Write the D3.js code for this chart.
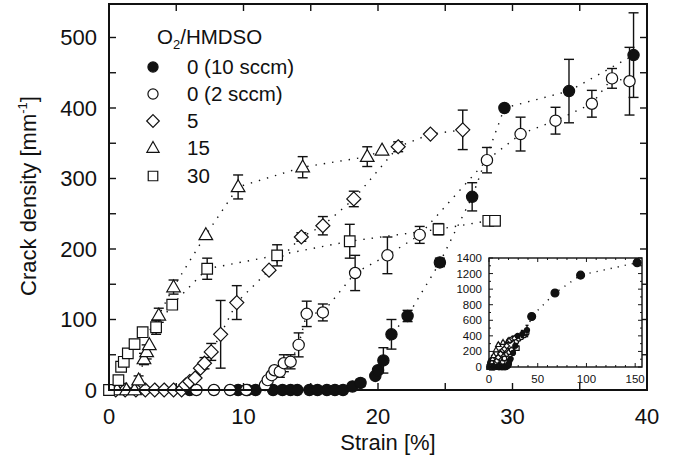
<!DOCTYPE html>
<html>
<head>
<meta charset="utf-8">
<script src="https://cdn.jsdelivr.net/npm/d3@7"></script>
<style>
  body { margin: 0; background: #fff; }
  text { font-family: "Liberation Sans", Arial, sans-serif; fill: #111; }
</style>
</head>
<body>
<svg id="chart" width="676" height="463"></svg>
<script>
// [strain %, crack density mm^-1, error]
const filled10 = [
  [6.0,0,0],[9.6,0,0],[10.3,0,0],[10.9,0,0],[12.2,0,0],[12.9,0,0],[13.5,0,0],[14.0,0,0],
  [14.9,0,0],[15.5,0,0],[16.2,0,0],[16.8,0,0],[17.4,0,0],[18.1,5,0],[18.7,10,5],
  [19.8,20,0],[20.0,28,0],[20.4,42,18],[21.0,79,21],[22.2,105,8],[24.6,181,6],
  [27.0,274,20],[29.4,400,0],[34.2,424,45],[39.0,475,60]
];
const open2 = [
  [6.5,0,0],[7.8,0,0],[9.0,0,0],[10.2,0,0],[11.6,7,0],[11.8,14,0],[12.1,21,0],[12.3,28,0],
  [12.7,26,8],[13.0,38,12],[13.5,40,10],[14.1,64,17],[14.7,108,18],[15.9,110,12],
  [18.3,166,25],[20.7,191,26],[23.1,220,12],[28.1,326,18],[30.6,363,24],[33.2,382,19],
  [35.9,406,19],[37.4,442,14],[38.7,438,48]
];
const ratio5 = [
  [0.5,0,0],[1.2,0,0],[2.0,0,0],[2.7,0,0],[3.4,0,0],[4.1,0,0],[4.8,0,0],[5.4,0,0],
  [5.7,7,0],[6.0,12,0],[6.4,17,0],[6.8,31,0],[7.1,38,8],[7.6,54,12],[8.3,79,48],
  [9.5,124,24],[11.9,170,0],[14.3,217,6],[15.9,233,13],[18.2,271,11],[21.5,345,7],
  [23.9,363,0],[26.3,369,28]
];
const ratio15 = [
  [0.6,0,0],[1.3,0,0],[1.9,0,0],[2.2,14,6],[2.6,44,8],[2.8,54,10],[3.0,64,0],
  [3.7,106,10],[4.8,146,10],[7.2,220,0],[9.6,288,17],[14.4,316,15],[19.2,331,14],[20.3,340,0]
];
const ratio30 = [
  [0,0,0],[0.7,14,0],[0.9,33,0],[1.1,40,0],[1.4,52,0],[1.9,65,0],[2.5,82,0],[3.5,89,10],
  [4.7,121,0],[7.3,172,15],[12.5,191,15],[17.9,211,24],[24.5,228,8],[28.2,240,0],[28.7,240,0]
];
// inset: long-strain points of the 10 sccm film
const insetExtra = [[43.8,649],[67.7,950],[94,1180],[152,1340]];

const legendLabels = ["0 (10 sccm)", "0  (2 sccm)", "5", "15", "30"];
const xTicks = [0, 10, 20, 30, 40];
const yTicks = [0, 100, 200, 300, 400, 500];
const insetXTicks = [0, 50, 100, 150];
const insetYTicks = [0, 200, 400, 600, 800, 1000, 1200, 1400];

const svg = d3.select("#chart");
const x = d3.scaleLinear().domain([0, 40]).range([109, 647]);
const y = d3.scaleLinear().domain([0, 547.5]).range([390, 4]);

// marker shapes
function shape(kind, s) {
  const k = s || 1;
  if (kind === "circle") return d3.symbol(d3.symbolCircle, 100 * k * k)();
  if (kind === "diamond") { const h = 7 * k; return `M0,${-h}L${h},0L0,${h}L${-h},0Z`; }
  if (kind === "triangle") { const a = 6.8 * k; return `M0,${-a * 1.05}L${a},${a * 0.7}L${-a},${a * 0.7}Z`; }
  if (kind === "square") { const a = 5.3 * k; return `M${-a},${-a}H${a}V${a}H${-a}Z`; }
}

const series = [
  { data: filled10, kind: "circle", fill: "#111" },
  { data: open2, kind: "circle", fill: "#fff" },
  { data: ratio5, kind: "diamond", fill: "#fff" },
  { data: ratio15, kind: "triangle", fill: "#fff" },
  { data: ratio30, kind: "square", fill: "#fff" }
];

function drawSeries(g, xs, ys, s, dash, lineW) {
  const line = d3.line().x(d => xs(d[0])).y(d => ys(d[1]));
  g.append("path")
    .datum(s.data)
    .attr("d", line)
    .attr("fill", "none")
    .attr("stroke", "#111")
    .attr("stroke-width", lineW)
    .attr("stroke-dasharray", dash);
}

function drawMarks(g, xs, ys, s, scale, cap) {
  const withErr = s.data.filter(d => d[2] > 0);
  const eb = g.selectAll(null).data(withErr).enter().append("g")
    .attr("stroke", "#111").attr("stroke-width", 1.4);
  eb.append("line")
    .attr("x1", d => xs(d[0])).attr("x2", d => xs(d[0]))
    .attr("y1", d => ys(d[1] - d[2])).attr("y2", d => ys(d[1] + d[2]));
  eb.append("line")
    .attr("x1", d => xs(d[0]) - cap).attr("x2", d => xs(d[0]) + cap)
    .attr("y1", d => ys(d[1] + d[2])).attr("y2", d => ys(d[1] + d[2]));
  eb.append("line")
    .attr("x1", d => xs(d[0]) - cap).attr("x2", d => xs(d[0]) + cap)
    .attr("y1", d => ys(d[1] - d[2])).attr("y2", d => ys(d[1] - d[2]));
  g.selectAll(null).data(s.data).enter().append("path")
    .attr("transform", d => `translate(${xs(d[0])},${ys(d[1])})`)
    .attr("d", shape(s.kind, scale))
    .attr("fill", s.fill)
    .attr("stroke", "#111")
    .attr("stroke-width", 1.2);
}

// main plot
const plot = svg.append("g");
series.forEach(s => drawSeries(plot, x, y, s, "1.4,7", 1.4));
series.forEach(s => drawMarks(plot, x, y, s, 1, 5));

// frame + inward ticks on four sides
function frame(g, xs, ys, xMajor, xMinor, yMajor, yMinor, tl, tm, sw) {
  const [x0, x1] = xs.range(), [y0, y1] = ys.range();
  const t = g.append("g").attr("stroke", "#111").attr("stroke-width", sw * 0.7);
  xMinor.forEach(v => {
    const len = xMajor.includes(v) ? tl : tm;
    t.append("line").attr("x1", xs(v)).attr("x2", xs(v)).attr("y1", y0).attr("y2", y0 - len);
    t.append("line").attr("x1", xs(v)).attr("x2", xs(v)).attr("y1", y1).attr("y2", y1 + len);
  });
  yMinor.forEach(v => {
    const len = yMajor.includes(v) ? tl : tm;
    t.append("line").attr("y1", ys(v)).attr("y2", ys(v)).attr("x1", x0).attr("x2", x0 + len);
    t.append("line").attr("y1", ys(v)).attr("y2", ys(v)).attr("x1", x1).attr("x2", x1 - len);
  });
  g.append("rect")
    .attr("x", x0).attr("y", y1).attr("width", x1 - x0).attr("height", y0 - y1)
    .attr("fill", "none").attr("stroke", "#111").attr("stroke-width", sw);
}

frame(svg, x, y, xTicks, d3.range(0, 41, 5), yTicks, d3.range(0, 548, 50), 7, 7, 2);

svg.append("g").selectAll("text").data(xTicks).enter().append("text")
  .attr("x", d => x(d)).attr("y", 424)
  .attr("text-anchor", "middle").attr("font-size", 22)
  .text(d => d);
svg.append("g").selectAll("text").data(yTicks).enter().append("text")
  .attr("x", 97).attr("y", d => y(d) + 8)
  .attr("text-anchor", "end").attr("font-size", 22)
  .text(d => d);

svg.append("text")
  .attr("x", 388).attr("y", 450)
  .attr("text-anchor", "middle").attr("font-size", 22)
  .text("Strain [%]");

const yl = svg.append("text")
  .attr("transform", "translate(36,196) rotate(-90)")
  .attr("text-anchor", "middle").attr("font-size", 22);
yl.append("tspan").text("Crack density [mm");
yl.append("tspan").attr("font-size", 13).attr("dy", -9).text("-1");
yl.append("tspan").attr("dy", 9).text("]");

// legend
const lt = svg.append("text").attr("x", 157).attr("y", 44).attr("font-size", 20.5);
lt.append("tspan").text("O");
lt.append("tspan").attr("font-size", 13).attr("dy", 5).text("2");
lt.append("tspan").attr("dy", -5).text("/HMDSO");

const legY = [67, 94, 121, 148, 176];
series.forEach((s, i) => {
  svg.append("path")
    .attr("transform", `translate(153,${legY[i]})`)
    .attr("d", shape(s.kind, 0.9))
    .attr("fill", s.fill).attr("stroke", "#111").attr("stroke-width", 1.2);
  svg.append("text")
    .attr("x", 187).attr("y", legY[i] + 7)
    .attr("font-size", 20.5)
    .text(legendLabels[i]);
});

// inset
const ix = d3.scaleLinear().domain([0, 157]).range([489, 642]);
const iy = d3.scaleLinear().domain([0, 1400]).range([367, 258]);
const inset = svg.append("g");
inset.append("rect").attr("x", 489).attr("y", 258).attr("width", 153).attr("height", 109).attr("fill", "#fff");
const extraPts = insetExtra.map(d => [d[0], d[1], 0]);
drawSeries(inset, ix, iy, { data: filled10.concat(extraPts) }, "1.2,6", 1.4);
series.slice(1).reverse().forEach(s => drawMarks(inset, ix, iy, s, 0.4, 1.5));
drawMarks(inset, ix, iy, { data: filled10, kind: "circle", fill: "#111" }, 0.45, 1.5);
drawMarks(inset, ix, iy, { data: extraPts, kind: "circle", fill: "#111" }, 0.7, 1.5);

frame(inset, ix, iy, insetXTicks, d3.range(0, 158, 10), insetYTicks, d3.range(0, 1401, 100), 4, 2, 1.4);

inset.append("g").selectAll("text").data(insetXTicks).enter().append("text")
  .attr("x", d => ix(d)).attr("y", 383)
  .attr("text-anchor", "middle").attr("font-size", 11.5)
  .text(d => d);
inset.append("g").selectAll("text").data(insetYTicks).enter().append("text")
  .attr("x", 482).attr("y", d => iy(d) + 4)
  .attr("text-anchor", "end").attr("font-size", 11.5)
  .text(d => d);
</script>
</body>
</html>
